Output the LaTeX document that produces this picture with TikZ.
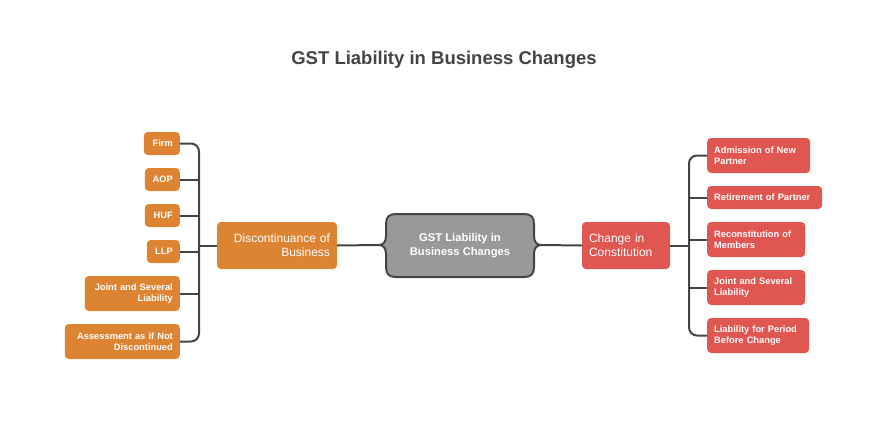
\documentclass[tikz,border=0pt]{standalone}
\usepackage{fontspec}
\setmainfont{Liberation Sans}
\begin{document}
\begin{tikzpicture}[x=1pt,y=-1pt,
  box/.style={rounded corners=4pt,text=white,inner xsep=7pt,inner ysep=2pt,font=\bfseries\fontsize{9.3}{11}\selectfont},
  leafL/.style={box,fill=orangeC,align=right,anchor=east},
  leafR/.style={box,fill=redC,align=left,anchor=west},
  conn/.style={draw=lineC,line width=2pt}]
\definecolor{orangeC}{HTML}{DD8433}
\definecolor{redC}{HTML}{E05651}
\definecolor{grayC}{HTML}{999999}
\definecolor{lineC}{HTML}{444444}
\useasboundingbox (0,0) rectangle (888,444);
\node[font=\bfseries\fontsize{18.5}{20}\selectfont,text=lineC] (title) at (444,60) {GST Liability in Business Changes};
% center
\path[fill=grayC,draw=lineC,line width=2pt]
 (396,214) -- (524,214) .. controls (531,214) and (534,217) .. (534,224) -- (534,236)
 .. controls (534,242) and (537,245) .. (541,245)
 .. controls (537,245) and (534,248) .. (534,254) -- (534,267)
 .. controls (534,274) and (531,277) .. (524,277) -- (396,277)
 .. controls (389,277) and (386,274) .. (386,267) -- (386,254)
 .. controls (386,248) and (383,245) .. (379,245)
 .. controls (383,245) and (386,242) .. (386,236) -- (386,224)
 .. controls (386,217) and (389,214) .. (396,214) -- cycle;
\node[text=white,font=\bfseries\fontsize{11.2}{14}\selectfont,align=center] (center) at (460,245.5) {GST Liability in\\Business Changes};
\coordinate (cL) at (379,245);
\coordinate (cR) at (541,245);
% main branches
\node[box,fill=orangeC,align=right,text width=106pt,minimum height=47,anchor=center,font=\fontsize{12}{14}\selectfont] (disc) at (277,245.5) {Discontinuance of\\Business};
\node[box,fill=redC,align=left,text width=74pt,minimum height=47,anchor=center,font=\fontsize{12}{14}\selectfont] (chg) at (626,245.5) {Change in\\Constitution};
\draw[conn] (disc.east) -- (cL);
\draw[conn] (chg.west) -- (cR);
% left leaves
\node[leafL,text width=22pt,minimum height=23] (firm) at (180,143.5) {Firm};
\node[leafL,text width=21pt,minimum height=23] (aop) at (180,179.5) {AOP};
\node[leafL,text width=21pt,minimum height=23] (huf) at (180,215.5) {HUF};
\node[leafL,text width=19pt,minimum height=23] (llp) at (180,251.5) {LLP};
\node[leafL,text width=81pt,minimum height=35] (jsl) at (180,293.5) {Joint and Several\\Liability};
\node[leafL,text width=101pt,minimum height=35] (ass) at (180,341.5) {Assessment as if Not\\Discontinued};
\coordinate (tl) at (199,245.5);
\draw[conn,rounded corners=8pt] (firm.east) -| (tl) |- (ass.east);
\foreach \n in {aop,huf,llp,jsl} \draw[conn] (\n.east) -- (\n.east -| tl);
\draw[conn] (disc.west) -- (tl);
% right leaves
\node[leafR,text width=89pt,minimum height=35] (adm) at (707,155.5) {Admission of New\\Partner};
\node[leafR,text width=101pt,minimum height=23] (ret) at (707,197.5) {Retirement of Partner};
\node[leafR,text width=84pt,minimum height=35] (rec) at (707,239.5) {Reconstitution of\\Members};
\node[leafR,text width=84pt,minimum height=35] (jsr) at (707,287.5) {Joint and Several\\Liability};
\node[leafR,text width=88pt,minimum height=35] (lpb) at (707,335.5) {Liability for Period\\Before Change};
\coordinate (tr) at (689,245.5);
\draw[conn,rounded corners=8pt] (adm.west) -| (tr) |- (lpb.west);
\foreach \n in {ret,rec,jsr} \draw[conn] (\n.west -| tr) -- (\n.west);
\draw[conn] (chg.east) -- (tr);
\end{tikzpicture}
\end{document}
